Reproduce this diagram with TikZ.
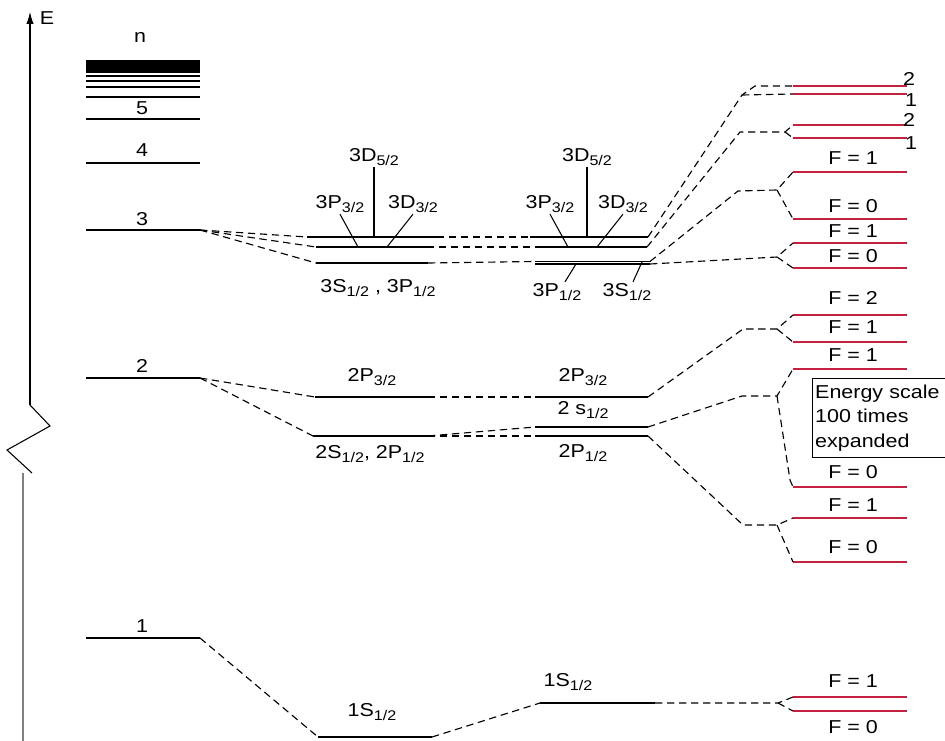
\documentclass[tikz,border=0pt]{standalone}
\usepackage{fontspec}
\setmainfont{Liberation Sans}[FakeStretch=1.15]
\usetikzlibrary{arrows.meta}
\definecolor{hfsred}{RGB}{196,32,64}
\newcommand{\ix}[1]{\raisebox{-0.4ex}{\fontsize{10.5}{12}\selectfont #1}}

\begin{document}
\begin{tikzpicture}[
  x=0.75pt, y=-0.75pt,
  font=\fontsize{14}{16}\selectfont,
  lvl/.style={line width=1pt},
  hfs/.style={line width=1pt, hfsred},
  link/.style={dash pattern=on 5.5pt off 3.5pt, line width=0.85pt},
  ptr/.style={line width=0.8pt},
  lab/.style={inner sep=1pt},
  flab/.style={inner sep=1pt},
]
  \useasboundingbox (0,0) rectangle (945,741);

  % energy axis with break
  \draw[line width=0.8pt, -{Latex[length=9pt,width=5.5pt]}] (30,405) -- (30,12);
  \node[lab] (axE) at (47,18) {E};
  \draw[line width=0.8pt] (30,405) -- (50,426) -- (7,450) -- (32,473);
  \draw[line width=0.8pt, gray] (23,473) -- (23,741);

  % Bohr levels
  \fill (86,60) rectangle (200,73);
  \foreach \y in {76,81,87,97} \draw[line width=0.8pt] (86,\y) -- (200,\y);
  \foreach \name/\xa/\xb/\y in {n5/86/200/119, n4/86/200/163, n3/86/200/230,
      n2/86/200/378, n1/86/200/638,
      d3a/307/437/237, d3b/316/427/247, d3c/316/428/263,
      d2a/315/428/397, d2b/313/428/436, d1/318/432/737,
      l3a/530/648/237, l3b/535/647/247, l3s/535/650/261.5, l3p/535/650/264,
      l2a/535/648/397, l2s/535/648/427, l2p/535/648/436, l1/540/655/703} {
    \coordinate (\name-l) at (\xa,\y);
    \coordinate (\name-r) at (\xb,\y);
    \draw[lvl] (\name-l) -- (\name-r);
  }
  \node[lab] (tn) at (140,37) {n};
  \node[lab] (t5) at (142,108) {5};
  \node[lab] (t4) at (142,150) {4};
  \node[lab] (t3) at (142,219) {3};
  \node[lab] (t2) at (142,366) {2};
  \node[lab] (t1) at (142,626) {1};

  % hyperfine levels (expanded)
  \foreach \name/\y in {h3a2/86, h3a1/94, h3b2/125, h3b1/138, h3c1/172, h3c0/219,
      h3d1/243, h3d0/268, h2a2/315, h2a1/342, h2b1/369, h2b0/487, h2c1/518,
      h2c0/562, h1f1/697, h1f0/711} {
    \coordinate (\name-l) at (793,\y);
    \coordinate (\name-r) at (907,\y);
    \draw[hfs] (\name-l) -- (\name-r);
  }

  % connectors between columns
  \foreach \a/\b in {n3-r/d3a-l, n3-r/d3b-l, n3-r/d3c-l, d3a-r/l3a-l, d3b-r/l3b-l,
      d3c-r/l3s-l, n2-r/d2a-l, n2-r/d2b-l, d2a-r/l2a-l, d2b-r/l2s-l, d2b-r/l2p-l,
      n1-r/d1-l, d1-r/l1-l}
    \draw[link] (\a) -- (\b);

  % forks to hyperfine levels
  \coordinate (k3a) at (742,95);   \coordinate (j3a) at (755,86);
  \coordinate (k3b) at (740,132);  \coordinate (f3b) at (785,132);
  \coordinate (k3c) at (738,191);  \coordinate (f3c) at (777,190);
  \coordinate (f3d) at (777,257);
  \coordinate (k2a) at (743,329);  \coordinate (f2a) at (777,329);
  \coordinate (k2b) at (742,396);  \coordinate (f2b) at (777,396);
  \coordinate (j2b) at (790,480);
  \coordinate (k2c) at (743,525);  \coordinate (f2c) at (777,525);
  \coordinate (f1) at (778,703);
  \draw[link] (l3a-r) -- (k3a) -- (j3a) -- (h3a2-l);
  \draw[link] (k3a) -- (h3a1-l);
  \draw[link] (l3b-r) -- (k3b) -- (f3b) -- (h3b2-l);
  \draw[link] (f3b) -- (h3b1-l);
  \draw[link] (l3s-r) -- (k3c) -- (f3c) -- (h3c1-l);
  \draw[link] (f3c) -- (h3c0-l);
  \draw[link] (l3p-r) -- (f3d) -- (h3d1-l);
  \draw[link] (f3d) -- (h3d0-l);
  \draw[link] (l2a-r) -- (k2a) -- (f2a) -- (h2a2-l);
  \draw[link] (f2a) -- (h2a1-l);
  \draw[link] (l2s-r) -- (k2b) -- (f2b) -- (h2b1-l);
  \draw[link] (f2b) -- (j2b) -- (h2b0-l);
  \draw[link] (l2p-r) -- (k2c) -- (f2c) -- (h2c1-l);
  \draw[link] (f2c) -- (h2c0-l);
  \draw[link] (l1-r) -- (f1) -- (h1f1-l);
  \draw[link] (f1) -- (h1f0-l);

  % n = 3 labels, Dirac column
  \node[lab] (a3D52) at (374,157) {3D\ix{5/2}};
  \node[lab] (a3P32) at (340,204) {3P\ix{3/2}};
  \node[lab] (a3D32) at (413,204) {3D\ix{3/2}};
  \node[lab] (a3S12) at (378,288) {3S\ix{1/2} , 3P\ix{1/2}};
  \coordinate (pa3P32) at (358,247);
  \coordinate (pa3D32) at (387,247);
  \draw[ptr] (a3D52.south) -- (a3D52.south |- d3a-l);
  \draw[ptr] (a3P32.south) -- (pa3P32);
  \draw[ptr] (a3D32.south) -- (pa3D32);

  % n = 3 labels, Lamb column
  \node[lab] (b3D52) at (587,157) {3D\ix{5/2}};
  \node[lab] (b3P32) at (550,204) {3P\ix{3/2}};
  \node[lab] (b3D32) at (623,204) {3D\ix{3/2}};
  \node[lab] (b3P12) at (557,292) {3P\ix{1/2}};
  \node[lab] (b3S12) at (627,292) {3S\ix{1/2}};
  \coordinate (pb3P32) at (568,247);
  \coordinate (pb3D32) at (597,247);
  \coordinate (pb3P12) at (576,264);
  \coordinate (pb3S12) at (642,262);
  \draw[ptr] (b3D52.south) -- (b3D52.south |- l3a-l);
  \draw[ptr] (b3P32.south) -- (pb3P32);
  \draw[ptr] (b3D32.south) -- (pb3D32);
  \draw[ptr] (b3P12.north) ++(8,0) coordinate (qb3P12) (qb3P12) -- (pb3P12);
  \draw[ptr] (b3S12.north) ++(6,0) coordinate (qb3S12) (qb3S12) -- (pb3S12);

  % n = 2 and n = 1 labels
  \node[lab] (a2P32) at (372,377) {2P\ix{3/2}};
  \node[lab] (a2S12) at (370,454) {2S\ix{1/2}, 2P\ix{1/2}};
  \node[lab] (b2P32) at (583,377) {2P\ix{3/2}};
  \node[lab] (b2S12) at (583,410) {2 s\ix{1/2}};
  \node[lab] (b2P12) at (583,453) {2P\ix{1/2}};
  \node[lab] (a1S12) at (372,712) {1S\ix{1/2}};
  \node[lab] (b1S12) at (568,682) {1S\ix{1/2}};

  % hyperfine labels
  \node[flab] (g3a2) at (909,79) {2};
  \node[flab] (g3a1) at (911,100) {1};
  \node[flab] (g3b2) at (909,120) {2};
  \node[flab] (g3b1) at (911,143) {1};
  \foreach \name/\y/\txt in {g3c1/158/1, g3c0/206/0, g3d1/231/1, g3d0/256/0,
      g2a2/298/2, g2a1/327/1, g2b1/355/1, g2b0/472/0, g2c1/505/1, g2c0/547/0,
      g1f1/681/1, g1f0/727/0}
    \node[flab] (\name) at (853,\y) {F = \txt};

  \node[draw, line width=0.8pt, anchor=north west, align=left, inner sep=2pt,
    text width=120pt, minimum height=59pt, font=\fontsize{14}{18.5}\selectfont]
    (scalebox) at (812,378) {Energy scale\\100 times\\expanded};
\end{tikzpicture}
\end{document}
